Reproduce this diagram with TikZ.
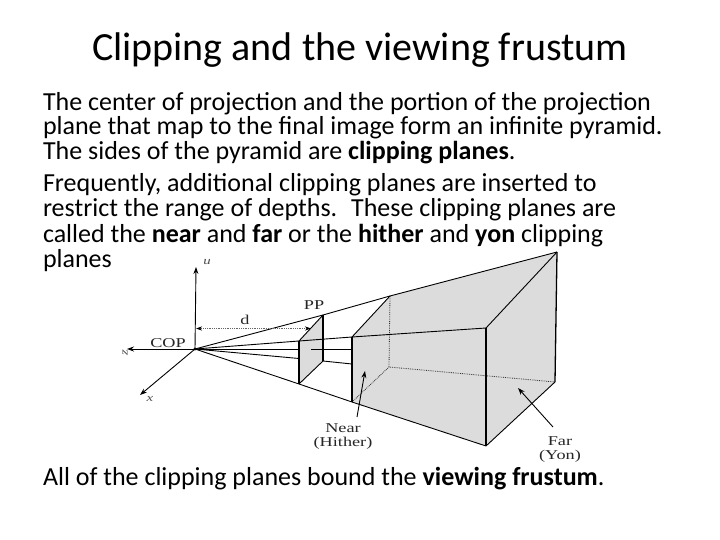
\documentclass[tikz,border=0pt]{standalone}
\usepackage{fontspec}
\setmainfont{Carlito}
\newfontfamily\labfont[FakeStretch=1.35]{Liberation Serif}
\usetikzlibrary{arrows.meta}
\definecolor{facegray}{HTML}{DCDCDC}
\tikzset{
 every node/.style={inner sep=0pt,outer sep=0pt},
 bodytext/.style={anchor=base west,font=\fontsize{26}{26}\selectfont},
 lab/.style={font=\labfont\fontsize{13.5}{13.5}\selectfont,align=center,text=black!85},
 axislab/.style={font=\labfont\fontsize{11}{11}\selectfont\itshape,text=black!70},
 ln/.style={line width=0.9pt,black},
 thickedge/.style={line width=1.3pt,black},
 hid/.style={line width=0.8pt,densely dotted,black!80},
 arr/.style={line width=0.9pt,-{Stealth[length=7pt,width=5pt]}},
}
\begin{document}
\begin{tikzpicture}[x=1pt,y=-1pt]
\useasboundingbox (0,0) rectangle (720,540);
\fill[white] (0,0) rectangle (720,540);
\node[anchor=base,font=\fontsize{40}{40}\selectfont] (title) at (360,61) {Clipping and the viewing frustum};
\node[bodytext] (l1) at (43,110.5) {The center of projection and the portion of the projection};
\node[bodytext] (l2) at (43,135) {plane that map to the final image form an infinite pyramid.};
\node[bodytext] (l3) at (43,160) {The sides of the pyramid are \textbf{clipping planes}.};
\node[bodytext] (l4) at (43,192) {Frequently, additional clipping planes are inserted to};
\node[bodytext] (l5) at (43,217) {restrict the range of depths.\hspace{6pt} These clipping planes are};
\node[bodytext] (l6) at (43,242) {called the \textbf{near} and \textbf{far} or the \textbf{hither} and \textbf{yon} clipping};
\node[bodytext] (l7) at (43,267) {planes};
\node[bodytext] (l8) at (43,485) {All of the clipping planes bound the \textbf{viewing frustum}.};
% points
\coordinate (cop) at (195,349);
\coordinate (ut) at (196,267);
\coordinate (zt) at (127,349);
\coordinate (xt) at (140,395);
\coordinate (pa) at (299,341);
\coordinate (pb) at (299,384);
\coordinate (pc) at (323,315);
\coordinate (pd) at (323,361);
\coordinate (na) at (352,337);
\coordinate (nb) at (352,402);
\coordinate (nc) at (390,296);
\coordinate (nd) at (389,367);
\coordinate (fa) at (486,328);
\coordinate (fb) at (486,446);
\coordinate (fc) at (557,252);
\coordinate (fd) at (555,382);
\coordinate (dl1) at (196,328.5);
\coordinate (dl2) at (311,328.5);
\fill[facegray] (na)--(nc)--(fc)--(fd)--(fb)--(nb)--cycle;
\fill[facegray] (pa)--(pc)--(pd)--(pb)--cycle;
% hidden
\draw[hid] (nc)--(nd);
\draw[hid] (nb)--(nd)--(fd);
% rays
\draw[ln] (cop)--(pa)--(na)--(fa);
\draw[ln] (cop)--(pb)--(nb)--(fb);
\draw[ln] (cop)--(pc)--(nc)--(fc);
\draw[ln] (cop)--(299,358.5);
\draw[ln] (pd)--(352,364);
\draw[ln] (cop)--(299,349);
\draw[ln] (311,349)--(352,349);
% faces
\draw[thickedge] (pa)--(pb);
\draw[thickedge] (pc)--(pd);
\draw[ln] (pa)--(pc);
\draw[ln] (pb)--(pd);
\draw[thickedge] (na)--(nb);
\draw[ln] (na)--(nc);
\draw[ln] (fa)--(fc);
\draw[thickedge] (fa)--(fb);
\draw[ln] (fb)--(fd);
\draw[thickedge] (fc)--(fd);
% axes
\draw[arr] (cop)--(ut);
\draw[arr] (cop)--(zt);
\draw[arr] (cop)--(xt);
\fill (cop) circle (1.6pt);
\draw[densely dotted,line width=0.8pt,black!60,{Stealth[length=6pt,width=4pt,black]}-{Stealth[length=6pt,width=4pt,black]}] (dl1)--(dl2);
% leaders
\coordinate (nt) at (357,417);
\coordinate (nh) at (365,371);
\coordinate (ft) at (553,427);
\coordinate (fh) at (518,388);
\draw[arr] (nt)--(nh);
\draw[arr] (ft)--(fh);
% labels
\node[axislab] (u) at (207,262) {u};
\node[axislab,rotate=90] (z) at (125,353) {z};
\node[axislab] (x) at (150,399) {x};
\node[lab] (cl) at (168,343) {COP};
\node[lab] (dl) at (245,320) {d};
\node[lab] (pp) at (314,305) {PP};
\node[lab] (near) at (343,428.5) {Near};
\node[lab] (hither) at (343,443) {(Hither)};
\node[lab] (far) at (560,441) {Far};
\node[lab] (yon) at (560,456) {(Yon)};
\end{tikzpicture}
\end{document}
